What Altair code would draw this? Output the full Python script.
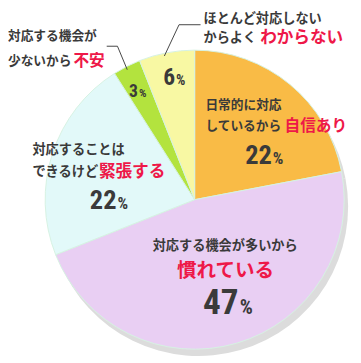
import altair as alt
import pandas as pd

# ---- data ----
categories = ["日常的に対応しているから自信あり", "対応する機会が多いから慣れている",
              "対応することはできるけど緊張する", "対応する機会が少ないから不安",
              "ほとんど対応しないからよくわからない"]
values = [22, 47, 22, 3, 6]
colors = ["#f9bb46", "#e9cff3", "#e2f9f9", "#b3e33e", "#f8f8a3"]

dark_lines = ["日常的に対応", "しているから", "対応する機会が多いから", "対応することは",
              "できるけど", "対応する機会が", "少ないから", "ほとんど対応しない", "からよく"]
red_words = ["自信あり", "慣れている", "緊張する", "不安", "わからない"]

# ---- layout (svg pixel positions, styles) ----
CX, CY, R = 191, 192, 153
dark_pos = [(202, 95, 13), (202, 117, 13), (148, 239, 13.5), (25, 141, 13.5),
            (25, 164, 13.5), (0, 25, 13), (0, 50, 13), (200, 7, 13.5), (200, 27, 13.5)]
red_pos = [(283, 117, 16), (173, 265, 20), (93, 164, 17), (67, 50, 16), (258, 27, 17)]
num_pos = [(270, 156, 27, 17), (236, 309, 36, 21), (111, 202, 27, 17),
           (133, 87, 18, 12), (171, 75, 24, 15)]
leaders = [[(101, 35), (112, 35), (122, 59)], [(197, 13), (175, 13), (160, 45)]]

DARK = "#3a3a3a"
RED = "#ee1848"
JP = "Noto Sans CJK JP"
NUMFONT = "Roboto Condensed, Liberation Sans Narrow, Roboto, sans-serif"

pie_df = pd.DataFrame({"cat": categories, "value": values, "idx": range(len(values))})

dark_df = pd.DataFrame({"t": dark_lines, "x": [p[0] for p in dark_pos],
                        "y": [p[1] for p in dark_pos], "fs": [p[2] for p in dark_pos]})
red_df = pd.DataFrame({"t": red_words, "x": [p[0] for p in red_pos],
                       "y": [p[1] for p in red_pos], "fs": [p[2] for p in red_pos]})
num_df = pd.DataFrame({"t": [str(v) for v in values], "x": [p[0] for p in num_pos],
                       "y": [p[1] for p in num_pos], "fs": [p[2] for p in num_pos]})
pct_df = pd.DataFrame({"t": ["%"] * len(values), "x": [p[0] + 1 for p in num_pos],
                       "y": [p[1] for p in num_pos], "fs": [p[3] for p in num_pos]})
lead_rows = []
for i, seg in enumerate(leaders):
    for j, (x, y) in enumerate(seg):
        lead_rows.append({"g": i, "o": j, "x": x, "y": y})
lead_df = pd.DataFrame(lead_rows)

shadow = alt.Chart(pie_df).mark_arc(radius=R, color="#dcdcdc").encode(
    theta=alt.Theta("value:Q", stack=True),
    order=alt.Order("idx:Q"),
    x=alt.value(CX + 4), y=alt.value(CY + 7),
)

pie = alt.Chart(pie_df).mark_arc(radius=R, stroke="#d6f2e2", strokeWidth=1).encode(
    theta=alt.Theta("value:Q", stack=True),
    order=alt.Order("idx:Q"),
    color=alt.Color("cat:N", scale=alt.Scale(domain=categories, range=colors), legend=None),
    x=alt.value(CX), y=alt.value(CY),
)

lines = alt.Chart(lead_df).mark_line(color="#444444", strokeWidth=1).encode(
    x=alt.X("x:Q", scale=None), y=alt.Y("y:Q", scale=None),
    detail="g:N", order="o:Q",
)

def txt(df, **kw):
    return alt.Chart(df).mark_text(**kw).encode(
        x=alt.X("x:Q", scale=None), y=alt.Y("y:Q", scale=None),
        text="t:N", size=alt.Size("fs:Q", scale=None, legend=None),
    )

dark = txt(dark_df, align="left", baseline="middle", font=JP, fontWeight="bold", color=DARK)
red = txt(red_df, align="left", baseline="middle", font=JP, fontWeight="bold", color=RED)
nums = txt(num_df, align="right", baseline="alphabetic", font=NUMFONT, fontWeight="bold", color=DARK)
pcts = txt(pct_df, align="left", baseline="alphabetic", font=NUMFONT, fontWeight="bold", color=DARK)

chart = alt.layer(shadow, pie, lines, dark, red, nums, pcts).properties(
    width=353, height=355, autosize=alt.AutoSizeParams(type="none"), padding=0,
    background="white",
).configure_view(stroke=None)

chart.save("out.html", embed_options={"renderer": "svg", "actions": False})
